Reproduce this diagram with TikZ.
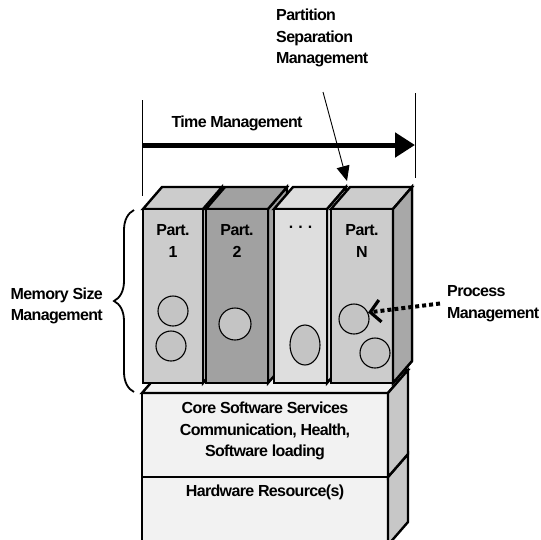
\documentclass[tikz,border=0pt]{standalone}
\usepackage{fontspec}
\setmainfont{Liberation Sans}
\newfontfamily\tightfont[LetterSpace=-4]{Liberation Sans}
\usetikzlibrary{arrows.meta,decorations.pathreplacing,shapes.geometric}

\definecolor{partlight}{gray}{0.80}
\definecolor{partdark}{gray}{0.63}
\definecolor{partpale}{gray}{0.87}
\definecolor{sideface}{gray}{0.66}
\definecolor{ballfill}{gray}{0.77}
\definecolor{basefront}{gray}{0.95}
\definecolor{baseside}{gray}{0.78}

\begin{document}
\begin{tikzpicture}[x=1pt,y=-1pt,
  lbl/.style={font=\tightfont\fontsize{16}{21.5}\selectfont\bfseries,inner sep=0pt},
  face/.style={draw,line width=2.4pt,line join=miter},
  ball/.style={draw,circle,fill=ballfill,line width=1.1pt,minimum size=30pt,inner sep=0pt}]
  \useasboundingbox (0,0) rectangle (541,539);

  % base boxes, cut off at the bottom edge
  \begin{scope}
    \clip (0,0) rectangle (541,539);
    \draw[face,fill=basefront] (142,477) rectangle (388,560);
    \draw[face,fill=baseside] (388,477) -- (408,454) -- (408,522) -- (388,545) -- cycle;
    \draw[face,fill=basefront] (142,393) rectangle (388,477);
    \draw[face,fill=basefront] (142,393) -- (162,370) -- (408,370) -- (388,393) -- cycle;
    \draw[face,fill=baseside] (388,393) -- (408,370) -- (408,454) -- (388,477) -- cycle;
  \end{scope}
  \node[lbl,align=center] (core) at (265,431) {Core Software Services\\Communication, Health,\\Software loading};
  \node[lbl] (hw) at (265,492) {Hardware Resource(s)};

  % partitions
  \foreach \xl/\xr/\shade/\name/\txt in {143/203/partlight/p1/{Part.\\1},
      206/268/partdark/p2/{Part.\\2},274/327/partpale/p3/{. . .\\\strut},
      331/393/partlight/pN/{Part.\\N}}{
    \draw[face,fill=\shade] (\xr,209) -- (\xr+19,187) -- (\xr+19,361) -- (\xr,383) -- cycle;
    \draw[face,fill=\shade] (\xl,209) -- (\xl+19,187) -- (\xr+19,187) -- (\xr,209) -- cycle;
    \draw[face,fill=\shade] (\xl,209) rectangle (\xr,383);
    \node[lbl,align=center] (\name) at ({(\xl+\xr)/2},241) {\txt};
  }
  \draw[face,fill=sideface] (393,209) -- (412,187) -- (412,361) -- (393,383) -- cycle;

  \node[ball] (c1a) at (173,311) {};
  \node[ball] (c1b) at (171,346) {};
  \node[ball,minimum size=32pt] (c2) at (235,324) {};
  \node[draw,ellipse,fill=ballfill,line width=1.1pt,minimum width=30pt,minimum height=40pt,inner sep=0pt] (c3) at (305,345) {};
  \node[ball] (cNa) at (354,319) {};
  \node[ball] (cNb) at (375,353) {};

  % time management
  \coordinate (tl) at (142,145);
  \coordinate (tr) at (415,145);
  \draw[line width=0.9pt] (142,100) -- (142,196);
  \draw[line width=0.9pt] (415,93) -- (415,178);
  \draw[line width=5pt,-{Triangle[length=20pt,width=24pt]}] (tl) -- (tr);
  \node[lbl] (time) at (237,123) {Time Management};

  % partition separation
  \node[lbl,align=left,anchor=west] (psm) at (276,38) {Partition\\Separation\\Management};
  \coordinate (psA) at (323,92);
  \coordinate (psB) at (347,181);
  \draw[line width=0.9pt,-{Triangle[length=15pt,width=13pt]}] (psA) -- (psB);

  % process management
  \node[lbl,align=left,anchor=west] (proc) at (447,303.5) {Process\\Management};
  \draw[line width=4pt,dash pattern=on 4pt off 3pt,-{Straight Barb[length=10pt,width=22pt,line width=3.2pt]}]
    ([xshift=-7pt]proc.west) -- (cNa.25);

  % memory size management
  \node[lbl,align=right,anchor=east] (mem) at (103,306) {Memory Size\\Management};
  \draw[line width=1.8pt,decorate,decoration={brace,amplitude=20pt}] (134,392) -- (134,210);
\end{tikzpicture}
\end{document}
